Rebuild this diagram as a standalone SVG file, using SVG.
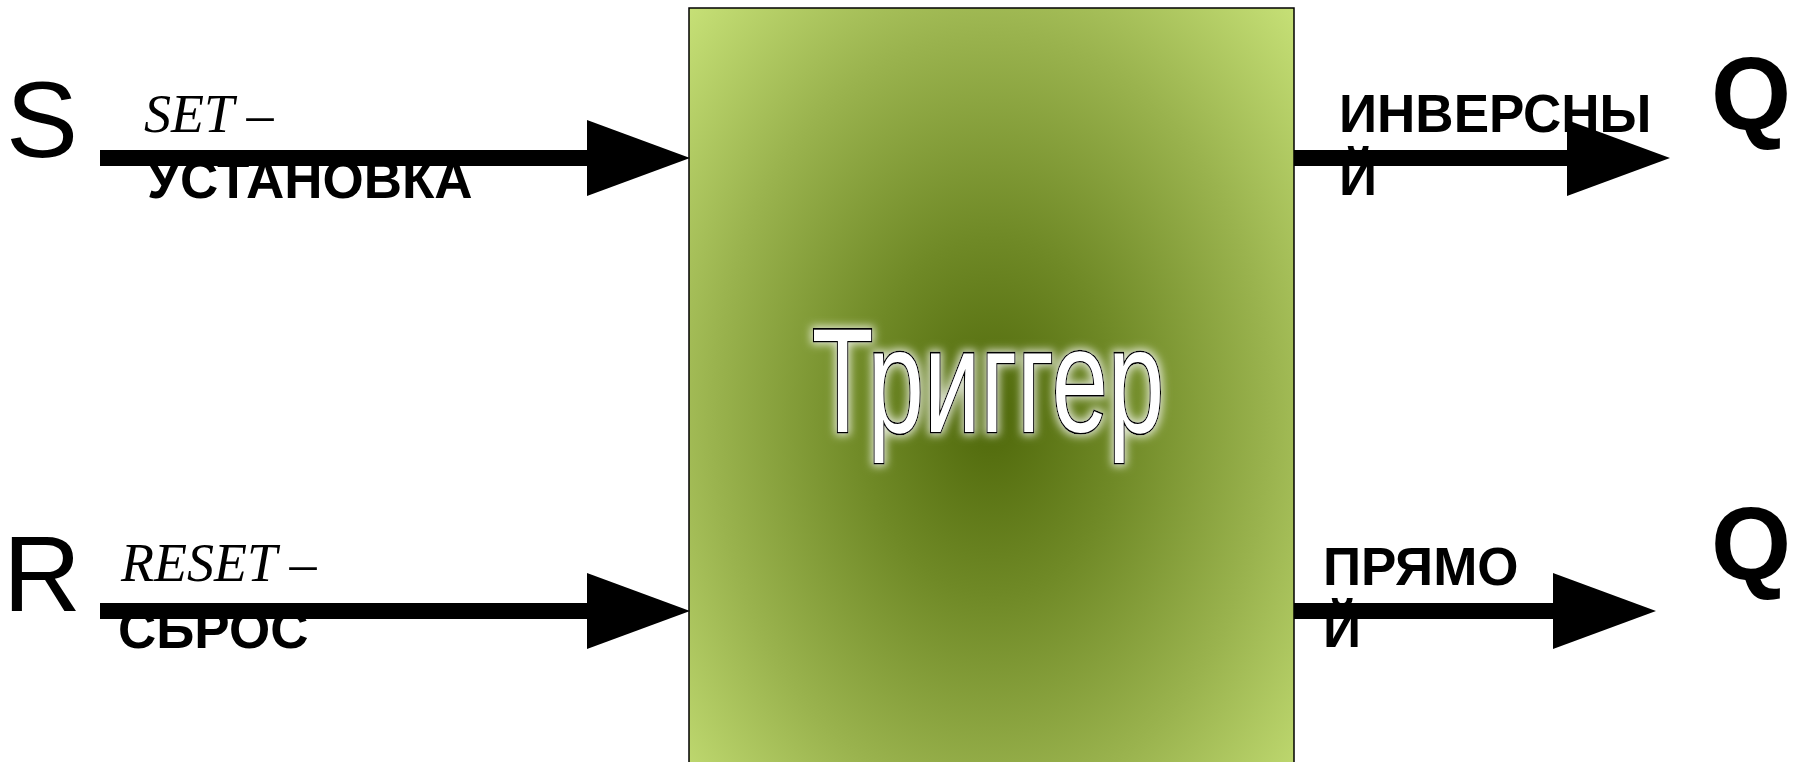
<svg xmlns="http://www.w3.org/2000/svg" width="1804" height="762" viewBox="0 0 1804 762">
  <defs>
    <radialGradient id="boxFill" cx="50%" cy="49%" r="71%">
      <stop offset="0" stop-color="#4f680a"/>
      <stop offset="0.3" stop-color="#6f8926"/>
      <stop offset="0.65" stop-color="#9ab34e"/>
      <stop offset="1" stop-color="#c8e278"/>
    </radialGradient>
    <filter id="glow" x="-10%" y="-15%" width="120%" height="130%">
      <feMorphology in="SourceAlpha" operator="dilate" radius="2" result="grow"/>
      <feGaussianBlur in="grow" stdDeviation="4" result="soft"/>
      <feFlood flood-color="#ffffff" flood-opacity="0.75"/>
      <feComposite in2="soft" operator="in" result="halo"/>
      <feMerge>
        <feMergeNode in="halo"/>
        <feMergeNode in="SourceGraphic"/>
      </feMerge>
    </filter>
    <marker id="head" markerUnits="userSpaceOnUse" markerWidth="103" markerHeight="76" viewBox="0 0 103 76" refX="0" refY="38" orient="auto">
      <path d="M0,0 L103,38 L0,76 Z" fill="#000"/>
    </marker>
    <style>
      .pin { font-family: "Liberation Sans", Arial, sans-serif; font-size: 108px; fill: #000; }
      .out { font-family: "Liberation Sans", Arial, sans-serif; font-size: 103px; font-weight: bold; fill: #000; }
      .name { font-family: "Liberation Serif", "Times New Roman", serif; font-style: italic; font-size: 54px; fill: #000; }
      .desc { font-family: "Liberation Sans", Arial, sans-serif; font-size: 53px; font-weight: bold; fill: #000; }
      .wire { stroke: #000; stroke-width: 16; fill: none; marker-end: url(#head); }
      .title { font-family: "Liberation Sans", Arial, sans-serif; font-size: 101px; fill: #fff; stroke: #000; stroke-width: 2.2; paint-order: stroke; }
    </style>
  </defs>

  <rect width="1804" height="762" fill="#fff"/>

  <!-- trigger block -->
  <g id="trigger">
    <rect x="689" y="8" width="605" height="834" fill="url(#boxFill)" stroke="#000" stroke-width="1.5"/>
    <g filter="url(#glow)">
      <text class="title" transform="translate(988,432) scale(1,1.47)" text-anchor="middle">Триггер</text>
    </g>
  </g>

  <!-- inputs -->
  <g id="input-s">
    <text class="pin" x="6" y="157">S</text>
    <text class="name" x="144" y="132">SET –</text>
    <text class="desc" x="147" y="198">УСТАНОВКА</text>
  </g>
  <g id="input-r">
    <text class="pin" x="3" y="611">R</text>
    <text class="name" x="121" y="581">RESET –</text>
    <text class="desc" x="118" y="648">СБРОС</text>
  </g>

  <!-- outputs -->
  <g id="output-inverse">
    <text class="desc" x="1339" y="132">ИНВЕРСНЫ</text>
    <text class="desc" x="1339" y="195">Й</text>
    <text class="out" x="1711" y="130">Q</text>
  </g>
  <g id="output-direct">
    <text class="desc" x="1323" y="585">ПРЯМО</text>
    <text class="desc" x="1323" y="647">Й</text>
    <text class="out" x="1711" y="580">Q</text>
  </g>

  <!-- connectors -->
  <g id="connectors">
    <line class="wire" x1="100" y1="158" x2="587" y2="158"/>
    <line class="wire" x1="100" y1="611" x2="587" y2="611"/>
    <line class="wire" x1="1294" y1="158" x2="1567" y2="158"/>
    <line class="wire" x1="1294" y1="611" x2="1553" y2="611"/>
  </g>
</svg>
